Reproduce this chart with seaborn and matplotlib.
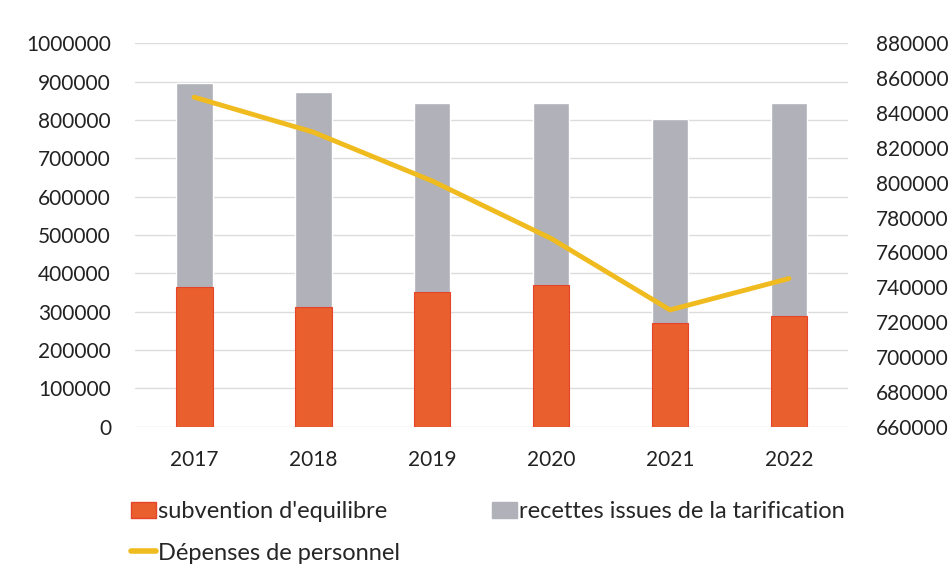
import numpy as np
import pandas as pd
import matplotlib
matplotlib.use("Agg")
import matplotlib.pyplot as plt
import seaborn as sns
from matplotlib.patches import Patch
from matplotlib.lines import Line2D
from matplotlib.ticker import FuncFormatter

# données
annees = ["2017", "2018", "2019", "2020", "2021", "2022"]
subvention = [365000, 312000, 350000, 370000, 270000, 290000]
recettes = [532000, 561000, 495000, 475000, 533000, 553000]
depenses = [849000, 829000, 801000, 768000, 727000, 745000]

sns.set_theme(style="white")
plt.rcParams["font.family"] = ["Lato", "DejaVu Sans"]

df = pd.DataFrame({"annee": annees, "subvention": subvention, "recettes": recettes,
                   "depenses": depenses})
df["total"] = df["subvention"] + df["recettes"]

c_rouge = "#EA5F2E"
c_gris = "#B0B1B9"
c_jaune = "#F0BB1E"

fig = plt.figure(figsize=(9.48, 5.83), dpi=100)
ax = fig.add_axes([0.142, 0.268, 0.753, 0.658])

# barres empilées : total en gris puis subvention en rouge par-dessus
sns.barplot(data=df, x="annee", y="total", color=c_gris, width=0.31, ax=ax,
            saturation=1, zorder=2)
sns.barplot(data=df, x="annee", y="subvention", color=c_rouge, width=0.31, ax=ax,
            saturation=1, edgecolor="#E4452A", linewidth=0.8, zorder=3)

ax.set_ylim(0, 1000000)
ax.set_yticks(np.arange(0, 1000001, 100000))
ax.yaxis.set_major_formatter(FuncFormatter(lambda v, p: f"{int(v)}"))
ax.set_xlim(-0.5, 5.5)
ax.yaxis.grid(True, color="#DCDCDC", linewidth=1)
ax.set_axisbelow(True)
ax.set_xlabel("")
ax.set_ylabel("")
for s in ax.spines.values():
    s.set_visible(False)
ax.tick_params(axis="y", labelsize=15, colors="#222222", length=0, pad=17)
ax.tick_params(axis="x", labelsize=15, colors="#222222", length=0, pad=17)

# axe secondaire pour les dépenses de personnel
ax2 = ax.twinx()
sns.lineplot(x=np.arange(len(annees)), y=df["depenses"], color=c_jaune, linewidth=3.5,
             ax=ax2, zorder=4)
ax2.set_ylim(660000, 880000)
ax2.set_yticks(np.arange(660000, 880001, 20000))
ax2.yaxis.set_major_formatter(FuncFormatter(lambda v, p: f"{int(v)}"))
ax2.set_ylabel("")
for s in ax2.spines.values():
    s.set_visible(False)
ax2.tick_params(axis="y", labelsize=15, colors="#222222", length=0, pad=20)

handles = [
    Patch(facecolor=c_rouge, edgecolor="#E4452A"),
    Line2D([0], [0], color=c_jaune, linewidth=4),
    Patch(facecolor=c_gris, edgecolor=c_gris),
]
labels = ["subvention d'equilibre", "Dépenses de personnel",
          "recettes issues de la tarification"]
fig.legend(handles, labels, ncol=2, loc="upper left", bbox_to_anchor=(0.128, 0.156),
           frameon=False, fontsize=17, handlelength=1.05, handletextpad=0.1,
           columnspacing=3.9, labelspacing=0.85, handleheight=0.7, borderaxespad=0)

plt.savefig("out.png", dpi=100)
